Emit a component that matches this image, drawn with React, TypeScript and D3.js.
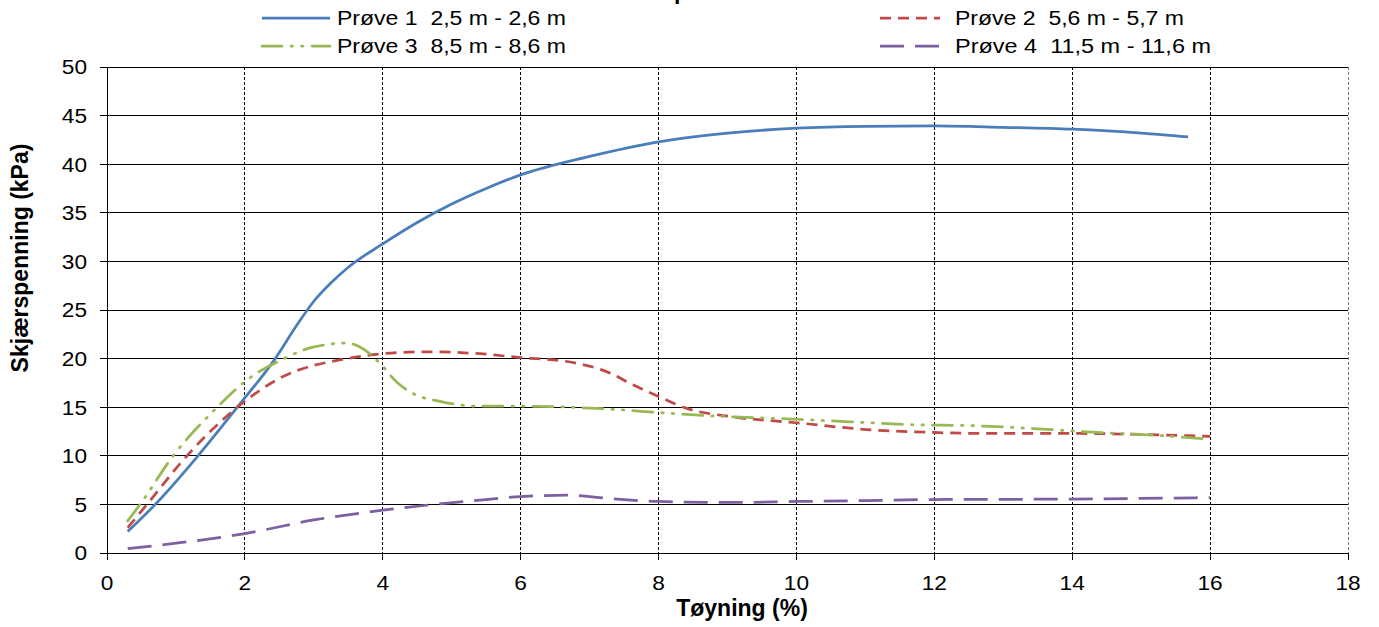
import React from "react";
import * as d3 from "d3";

const seriesNames = [
  "Prøve 1  2,5 m - 2,6 m",
  "Prøve 2  5,6 m - 5,7 m",
  "Prøve 3  8,5 m - 8,6 m",
  "Prøve 4  11,5 m - 11,6 m",
];

const p1X = [0.3, 0.7, 1.32, 1.89, 2.44, 2.75, 3.0, 3.25, 3.5, 4.0, 4.5, 5.0, 5.5, 6.0, 7.0, 8.0, 9.0, 10.0, 11.0, 12.0, 13.0, 14.0, 15.0, 15.68];
const p1Y = [2.2, 5.0, 10.0, 15.0, 20.0, 23.4, 25.9, 27.8, 29.4, 31.8, 34.0, 35.9, 37.5, 38.9, 40.8, 42.3, 43.2, 43.7, 43.9, 43.95, 43.8, 43.6, 43.2, 42.8];

const p2X = [0.3, 0.58, 1.16, 1.89, 2.51, 3.48, 4.0, 4.6, 5.41, 6.0, 6.67, 7.3, 7.63, 8.0, 8.4, 9.08, 10.0, 11.02, 11.98, 12.8, 14.0, 15.0, 16.0];
const p2Y = [2.6, 5.0, 10.0, 15.0, 18.0, 20.0, 20.5, 20.7, 20.5, 20.1, 19.7, 18.5, 17.3, 16.1, 14.9, 14.0, 13.4, 12.7, 12.4, 12.3, 12.3, 12.2, 12.0];

const p3X = [0.3, 0.48, 0.96, 1.6, 2.03, 2.51, 3.0, 3.48, 3.67, 3.96, 4.2, 4.44, 4.83, 5.41, 6.0, 7.3, 8.1, 9.08, 9.86, 10.78, 11.65, 12.56, 13.43, 14.36, 15.23, 16.0];
const p3Y = [3.3, 5.0, 10.0, 15.0, 17.8, 19.8, 21.2, 21.6, 21.2, 19.5, 17.6, 16.4, 15.6, 15.1, 15.1, 14.8, 14.4, 14.0, 13.8, 13.5, 13.2, 13.1, 12.8, 12.4, 12.1, 11.7];

const p4X = [0.3, 1.06, 2.0, 3.0, 4.0, 5.41, 6.0, 6.67, 7.3, 8.0, 9.08, 10.0, 11.02, 12.0, 14.0, 16.0];
const p4Y = [0.45, 1.06, 2.0, 3.4, 4.4, 5.45, 5.8, 5.95, 5.6, 5.3, 5.2, 5.3, 5.4, 5.5, 5.55, 5.7];

const xTicks = [0, 2, 4, 6, 8, 10, 12, 14, 16, 18];
const yTicks = [0, 5, 10, 15, 20, 25, 30, 35, 40, 45, 50];

const xTitle = "Tøyning (%)";
const yTitle = "Skjærspenning (kPa)";
const titleA = "DSS-forsøk kom";
const titleB = "pilert";

const colors = ["#4a7ebb", "#be4b48", "#98b954", "#7d60a0"];
const dashes = ["none", "11,7", "20,9,1.5,9,1.5,9", "24,11"];

export default function App() {
  const W = 1379;
  const H = 627;
  const x = d3.scaleLinear().domain([0, 18]).range([107, 1348]);
  const y = d3.scaleLinear().domain([0, 50]).range([553, 67]);
  const font = "'Liberation Sans', Arial, sans-serif";

  const allX = [p1X, p2X, p3X, p4X];
  const allY = [p1Y, p2Y, p3Y, p4Y];
  const line = d3
    .line<[number, number]>()
    .x((d) => x(d[0]))
    .y((d) => y(d[1]))
    .curve(d3.curveMonotoneX);

  const legendPos = [
    { x1: 262, x2: 330, tx: 337, ty: 18, len: 229 },
    { x1: 880, x2: 940, tx: 955, ty: 18, len: 229 },
    { x1: 262, x2: 330, tx: 337, ty: 46, len: 229 },
    { x1: 880, x2: 940, tx: 955, ty: 46, len: 256 },
  ];

  return (
    <svg
      width={W}
      height={H}
      style={{ position: "absolute", left: 0, top: 0, background: "#fff" }}
      fontFamily={font}
    >
      <rect x={0} y={0} width={W} height={H} fill="#fff" />
      {/* title, mostly cut off at top as in the reference */}
      <text x={674} y={-1} fontSize={23} fontWeight="bold" textAnchor="end" fill="#000">
        {titleA}
      </text>
      <text x={674} y={-1} fontSize={23} fontWeight="bold" textAnchor="start" fill="#000">
        {titleB}
      </text>

      {yTicks.map((t) => (
        <line key={"h" + t} x1={x(0)} x2={x(18)} y1={y(t)} y2={y(t)} stroke="#000" strokeWidth={1} shapeRendering="crispEdges" />
      ))}
      {xTicks.filter((t) => t > 0).map((t) => (
        <line
          key={"v" + t}
          x1={x(t)}
          x2={x(t)}
          y1={y(50)}
          y2={y(0)}
          stroke={t === 18 ? "#777" : "#000"}
          strokeWidth={1}
          strokeDasharray="3,2"
          shapeRendering="crispEdges"
        />
      ))}
      <line x1={x(0)} x2={x(0)} y1={y(50)} y2={y(0)} stroke="#000" strokeWidth={1} shapeRendering="crispEdges" />
      <line x1={x(0)} x2={x(18)} y1={y(0)} y2={y(0)} stroke="#000" strokeWidth={1} shapeRendering="crispEdges" />
      {yTicks.map((t) => (
        <g key={"yt" + t}>
          <line x1={x(0) - 7} x2={x(0)} y1={y(t)} y2={y(t)} stroke="#000" shapeRendering="crispEdges" />
          <g transform={`translate(87,${y(t)}) scale(1.08,1)`}>
            <text x={0} y={0} dy="0.35em" textAnchor="end" fontSize={21} fill="#000">
              {t}
            </text>
          </g>
        </g>
      ))}
      {xTicks.map((t) => (
        <g key={"xt" + t}>
          <line x1={x(t)} x2={x(t)} y1={y(0)} y2={y(0) + 7} stroke="#000" shapeRendering="crispEdges" />
          <g transform={`translate(${x(t)},590) scale(1.08,1)`}>
            <text x={0} y={0} textAnchor="middle" fontSize={21} fill="#000">
              {t}
            </text>
          </g>
        </g>
      ))}
      <text x={742} y={616} textAnchor="middle" fontSize={23} fontWeight="bold" fill="#000">
        {xTitle}
      </text>
      <text
        transform={`translate(28,258) rotate(-90)`}
        textAnchor="middle"
        fontSize={23}
        fontWeight="bold"
        fill="#000"
      >
        {yTitle}
      </text>

      {allX.map((xs, i) => {
        const pts: [number, number][] = xs.map((v, j) => [v, allY[i][j]]);
        return (
          <path
            key={"s" + i}
            d={line(pts) || ""}
            fill="none"
            stroke={colors[i]}
            strokeWidth={2.75}
            strokeDasharray={dashes[i]}
            strokeLinecap={i === 2 ? "round" : "butt"}
          />
        );
      })}

      {seriesNames.map((n, i) => {
        const p = legendPos[i];
        return (
          <g key={"l" + i}>
            <line
              x1={p.x1}
              x2={p.x2}
              y1={p.ty}
              y2={p.ty}
              stroke={colors[i]}
              strokeWidth={2.75}
              strokeDasharray={dashes[i]}
              strokeLinecap={i === 2 ? "round" : "butt"}
            />
            <text
              x={p.tx}
              y={p.ty}
              dy="0.36em"
              fontSize={20}
              fill="#000"
              textLength={p.len}
              lengthAdjust="spacingAndGlyphs"
              style={{ whiteSpace: "pre" }}
            >
              {n}
            </text>
          </g>
        );
      })}
    </svg>
  );
}
